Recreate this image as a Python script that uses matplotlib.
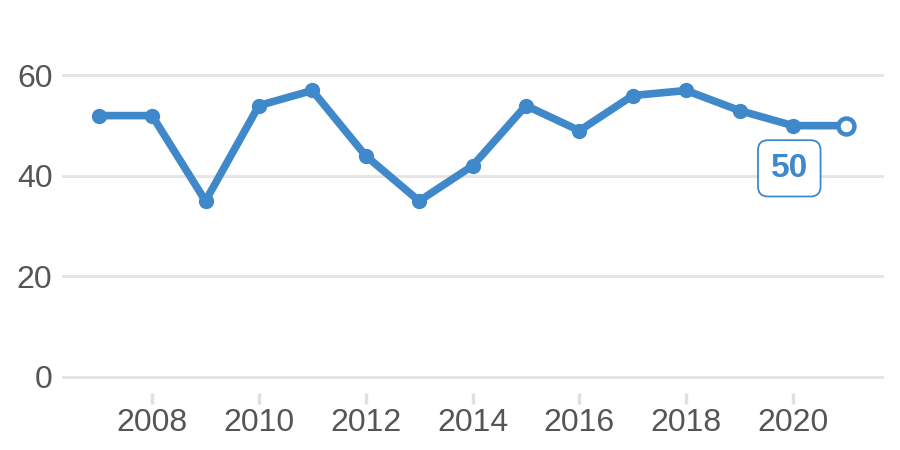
import matplotlib
matplotlib.use("Agg")
import matplotlib.pyplot as plt

years = [2007, 2008, 2009, 2010, 2011, 2012, 2013, 2014, 2015, 2016, 2017, 2018, 2019, 2020, 2021]
values = [52, 52, 35, 54, 57, 44, 35, 42, 54, 49, 56, 57, 53, 50, 50]
xticks = [2008, 2010, 2012, 2014, 2016, 2018, 2020]
yticks = [0, 20, 40, 60]
label_text = "50"

blue = "#3f88c9"
plt.rcParams['font.family'] = ['Liberation Sans', 'DejaVu Sans']

fig = plt.figure(figsize=(9, 4.5), dpi=100)
ax = fig.add_axes([0.069, 0.127, 0.913, 0.817])

ax.plot(years, values, color=blue, linewidth=5.5, marker="o", markersize=10,
        solid_capstyle="round", solid_joinstyle="round", zorder=3)
# last point hollow
ax.plot(years[-1], values[-1], marker="o", markersize=11.5, markerfacecolor="white",
        markeredgecolor=blue, markeredgewidth=3.2, zorder=4)

ax.text(2019.93, 41.5, label_text, ha="center", va="center", fontsize=24,
        fontweight="bold", color=blue, zorder=5,
        bbox=dict(boxstyle="round,pad=0.38,rounding_size=0.3", facecolor="white",
                  edgecolor=blue, linewidth=1.3))

ax.set_xlim(2006.315, 2021.70)
ax.set_ylim(-3.2, 70)
ax.set_xticks(xticks)
ax.set_yticks(yticks)
ax.grid(axis="y", color="#e4e4e4", linewidth=2)
ax.set_axisbelow(True)
for s in ax.spines.values():
    s.set_visible(False)
ax.tick_params(axis="y", length=0, pad=7, labelsize=23, labelcolor="#555555")
ax.tick_params(axis="x", length=8, width=2.5, color="#e0e0e0", pad=3,
               labelsize=23, labelcolor="#555555")

fig.savefig("out.png", dpi=100)
